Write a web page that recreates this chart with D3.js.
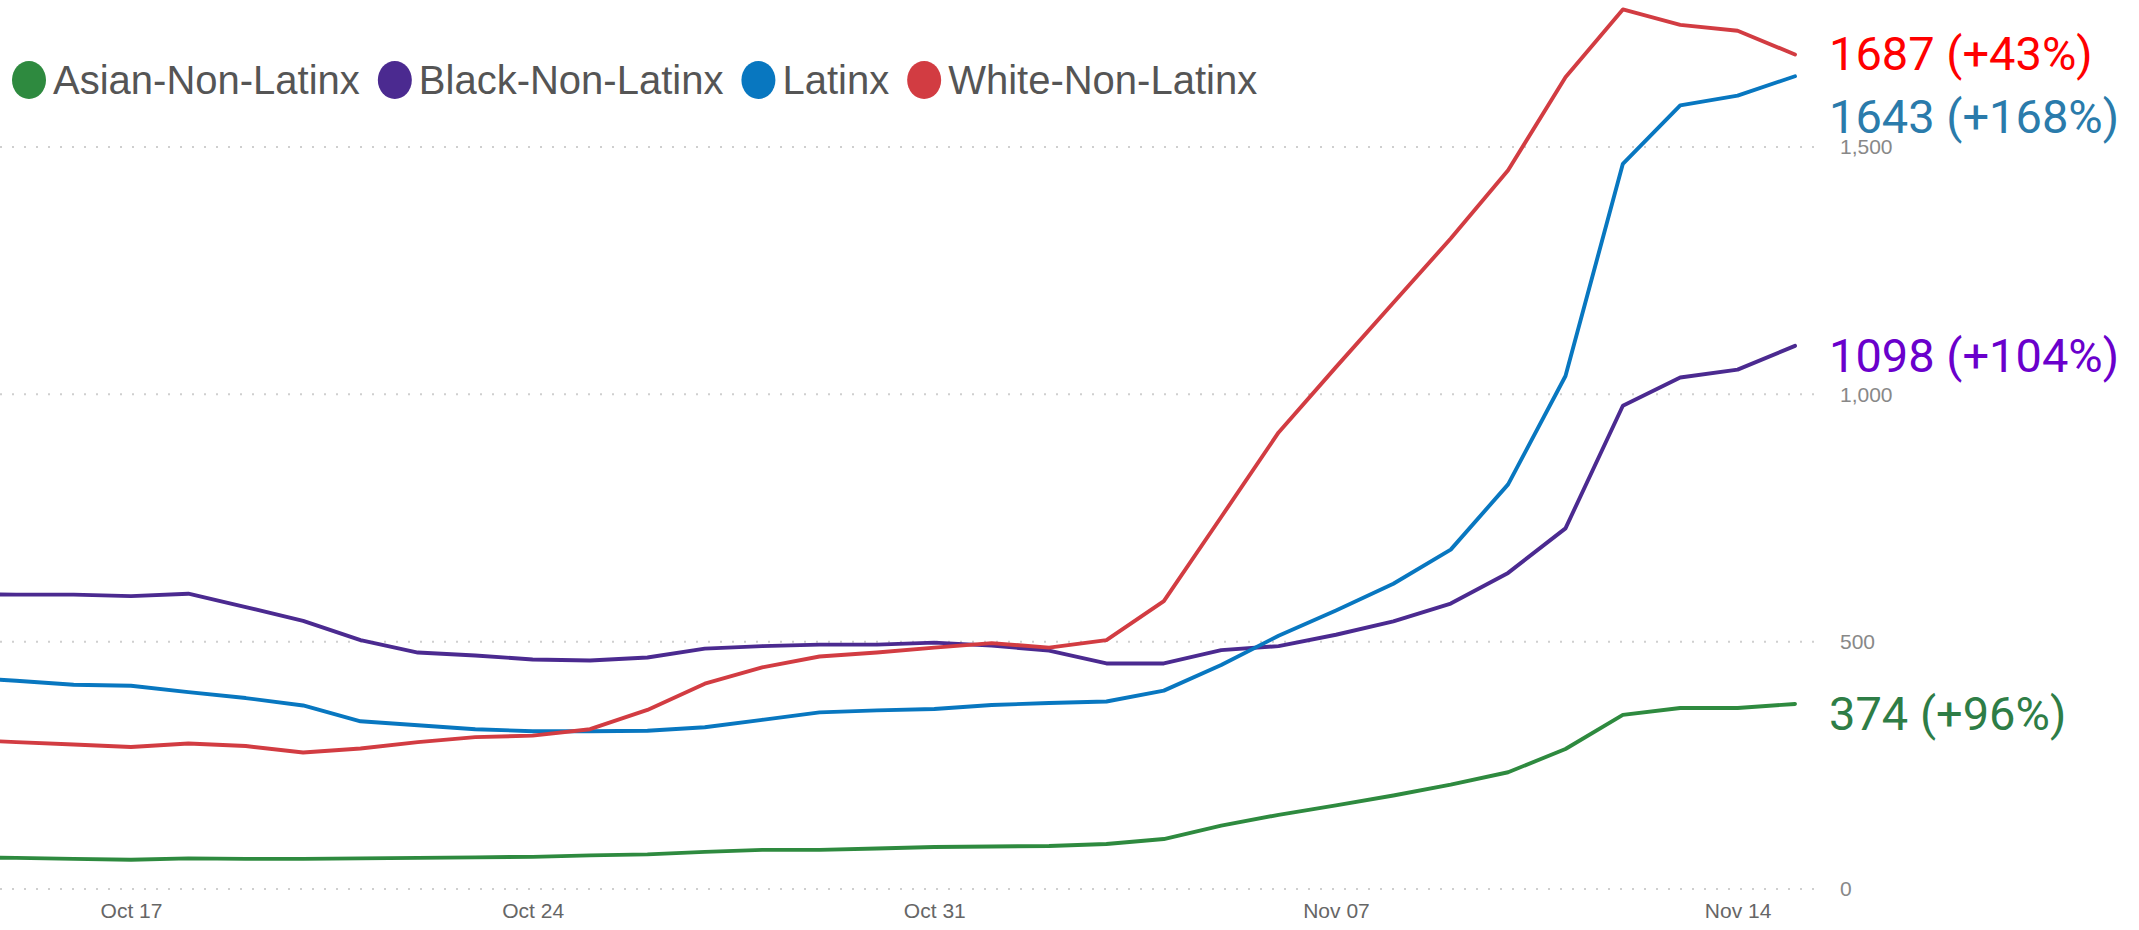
<!DOCTYPE html>
<html>
<head>
<meta charset="utf-8">
<script src="https://cdnjs.cloudflare.com/ajax/libs/d3/7.8.5/d3.min.js"></script>
<style>
  html, body { margin: 0; padding: 0; background: #fff; overflow: hidden; }
  svg { display: block; }
  .legend text { font-family: "Liberation Sans", Arial, sans-serif; font-size: 40px; fill: #555; }
  .x-axis text { font-family: "Liberation Sans", Arial, sans-serif; font-size: 21px; fill: #666; }
  .y-axis text { font-family: "Liberation Sans", Arial, sans-serif; font-size: 21px; fill: #888; }
  .grid line { stroke: #cfcfcf; stroke-width: 2; stroke-dasharray: 2 10; }
  .end-label { font-family: Roboto, "Noto Sans", sans-serif; font-size: 47px; }
  .line { fill: none; stroke-width: 3.9; stroke-linejoin: round; stroke-linecap: round; }
</style>
</head>
<body>
<div id="chart"></div>
<script>
// daily values, Oct 14 - Nov 15 2020
var dates = [
  '2020-10-14', '2020-10-15', '2020-10-16', '2020-10-17', '2020-10-18', '2020-10-19', '2020-10-20',
  '2020-10-21', '2020-10-22', '2020-10-23', '2020-10-24', '2020-10-25', '2020-10-26', '2020-10-27',
  '2020-10-28', '2020-10-29', '2020-10-30', '2020-10-31', '2020-11-01', '2020-11-02', '2020-11-03',
  '2020-11-04', '2020-11-05', '2020-11-06', '2020-11-07', '2020-11-08', '2020-11-09', '2020-11-10',
  '2020-11-11', '2020-11-12', '2020-11-13', '2020-11-14', '2020-11-15'
];
var seriesNames = ['Asian-Non-Latinx', 'Black-Non-Latinx', 'Latinx', 'White-Non-Latinx'];
var asianValues = [64, 63, 61, 59, 62, 61, 61, 62, 63, 64, 65, 68, 70, 75, 79, 79, 82, 85, 86, 87, 91,
  101, 128, 150, 169, 189, 211, 236, 283, 352, 366, 366, 374];
var blackValues = [596, 595, 595, 592, 597, 570, 542, 503, 478, 472, 464, 462, 468, 486, 491, 494, 494,
  498, 492, 482, 456, 456, 483, 491, 514, 541, 577, 639, 729, 977, 1034, 1050, 1098];
var latinxValues = [428, 421, 413, 411, 398, 386, 371, 339, 331, 323, 319, 319, 320, 327, 342, 357, 361,
  364, 372, 376, 379, 401, 453, 512, 563, 617, 686, 818, 1037, 1466, 1584, 1604, 1643];
var whiteValues = [302, 297, 292, 287, 294, 289, 276, 284, 297, 307, 310, 323, 362, 415, 448, 470, 478,
  488, 497, 488, 503, 582, 752, 923, 1055, 1185, 1315, 1453, 1641, 1778, 1747, 1735, 1687];
var endLabels = ['374 (+96%)', '1098 (+104%)', '1643 (+168%)', '1687 (+43%)'];
var xTickDates = ['2020-10-17', '2020-10-24', '2020-10-31', '2020-11-07', '2020-11-14'];
var yTickValues = [0, 500, 1000, 1500];

var lineColors = ['#2e8a3f', '#4b2a90', '#0877c0', '#d23c42'];
var labelColors = ['#2e7d46', '#6a00cc', '#2a7bab', '#ff0000'];

var W = 2139, H = 930;
var parse = d3.timeParse('%Y-%m-%d');
var days = dates.map(parse);
var valueLists = [asianValues, blackValues, latinxValues, whiteValues];

var series = seriesNames.map(function(name, i) {
  return {
    name: name,
    color: lineColors[i],
    labelColor: labelColors[i],
    label: endLabels[i],
    values: valueLists[i].map(function(v, j) { return { date: days[j], value: v }; })
  };
});

var svg = d3.select('#chart').append('svg')
  .attr('width', W)
  .attr('height', H);

var x = d3.scaleTime()
  .domain([parse('2020-10-17'), parse('2020-11-15')])
  .range([131, 1795]);
var y = d3.scaleLinear()
  .domain([0, 1500])
  .range([889, 147]);

// dotted gridlines
svg.append('g').attr('class', 'grid')
  .selectAll('line').data(yTickValues).join('line')
  .attr('x1', 0).attr('x2', 1818)
  .attr('y1', function(d) { return y(d); })
  .attr('y2', function(d) { return y(d); });

var yAxis = d3.axisRight(y)
  .tickValues(yTickValues)
  .tickFormat(d3.format(','))
  .tickSize(0)
  .tickPadding(0);
svg.append('g').attr('class', 'y-axis')
  .attr('transform', 'translate(1840,0)')
  .call(yAxis)
  .call(function(g) { g.select('.domain').remove(); });

var xAxis = d3.axisBottom(x)
  .tickValues(xTickDates.map(parse))
  .tickFormat(d3.timeFormat('%b %d'))
  .tickSize(0)
  .tickPadding(0);
svg.append('g').attr('class', 'x-axis')
  .attr('transform', 'translate(0,903)')
  .call(xAxis)
  .call(function(g) { g.select('.domain').remove(); });

var line = d3.line()
  .x(function(d) { return x(d.date); })
  .y(function(d) { return y(d.value); });

svg.append('g').selectAll('path').data(series).join('path')
  .attr('class', 'line')
  .attr('stroke', function(d) { return d.color; })
  .attr('d', function(d) { return line(d.values); });

// end labels, pushed apart top to bottom
var ends = series.map(function(s) {
  var last = s.values[s.values.length - 1];
  return { s: s, cy: y(last.value) };
}).sort(function(a, b) { return a.cy - b.cy; });
var minGap = 63;
for (var i = 1; i < ends.length; ++i) {
  if (ends[i].cy - ends[i - 1].cy < minGap) {
    ends[i].cy = ends[i - 1].cy + minGap;
  }
}
svg.append('g').selectAll('text').data(ends).join('text')
  .attr('class', 'end-label')
  .attr('x', 1829)
  .attr('y', function(d, i) { return d.cy + (i < 2 ? 16 : 26); })
  .attr('fill', function(d) { return d.s.labelColor; })
  .text(function(d) { return d.s.label; });

// legend
var legend = svg.append('g').attr('class', 'legend')
  .attr('transform', 'translate(29,80)');
var offset = 0;
series.forEach(function(s) {
  var item = legend.append('g').attr('transform', 'translate(' + offset + ',0)');
  item.append('ellipse')
    .attr('rx', 17).attr('ry', 19)
    .attr('fill', s.color);
  var t = item.append('text')
    .attr('x', 24)
    .attr('y', 14)
    .text(s.name);
  offset += 24 + t.node().getComputedTextLength() + 35;
});
</script>
</body>
</html>
